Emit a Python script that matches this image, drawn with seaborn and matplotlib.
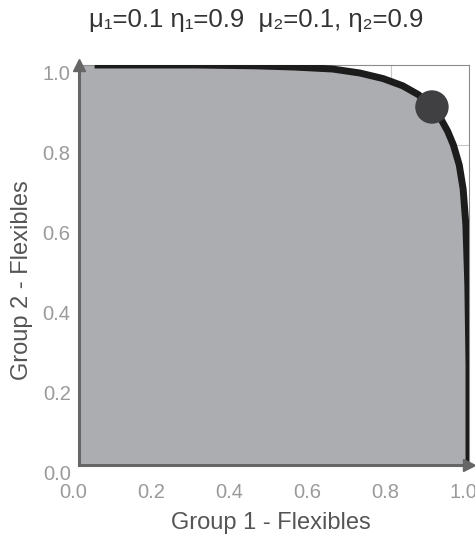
import numpy as np
import pandas as pd
import seaborn as sns
import matplotlib.pyplot as plt
import matplotlib.transforms as mtransforms

# frontier curve
curve_x = [0.04, 0.15, 0.30, 0.45, 0.55, 0.65, 0.72, 0.78, 0.83, 0.87, 0.90,
           0.925, 0.945, 0.96, 0.975, 0.985, 0.992, 0.997, 1.0, 1.0]
curve_y = [1.0, 1.0, 1.0, 0.998, 0.995, 0.99, 0.98, 0.966, 0.948, 0.926, 0.90,
           0.87, 0.835, 0.80, 0.75, 0.69, 0.60, 0.45, 0.25, 0.0]

# operating point
point_x = [0.905]
point_y = [0.895]

ticks = [0.0, 0.2, 0.4, 0.6, 0.8, 1.0]
tick_labels = ['0.0', '0.2', '0.4', '0.6', '0.8', '1.0']

title = 'μ₁=0.1 η₁=0.9  μ₂=0.1, η₂=0.9'
xlabel = 'Group 1 - Flexibles'
ylabel = 'Group 2 - Flexibles'

sns.set_style('white')
plt.rcParams['font.family'] = ['Liberation Sans', 'DejaVu Sans']

df_curve = pd.DataFrame({'x': curve_x, 'y': curve_y})
df_point = pd.DataFrame({'x': point_x, 'y': point_y})

fig = plt.figure(figsize=(4.75, 5.44), dpi=100)
ax = fig.add_axes([79 / 475, 1 - 465 / 544, 390 / 475, 400 / 544])

# light grid under everything
for t in ticks[1:-1]:
    ax.axvline(t, color='#c8c8c8', lw=0.8, zorder=0)
    ax.axhline(t, color='#c8c8c8', lw=0.8, zorder=0)

# gray feasible region
fill_x = [0.0] + curve_x
fill_y = [1.0] + curve_y
ax.fill_between(fill_x, 0, fill_y, color='#acadb1', lw=0, zorder=1)

sns.lineplot(data=df_curve, x='x', y='y', ax=ax, color='#1c1c1c', lw=5,
             sort=False, estimator=None, zorder=3, solid_capstyle='butt')
sns.scatterplot(data=df_point, x='x', y='y', ax=ax, color='#404043', s=580,
                edgecolor='none', zorder=4)

ax.set_xlim(0, 1)
ax.set_ylim(0, 1)
ax.set_xticks(ticks)
ax.set_yticks(ticks)
ax.set_xticklabels(tick_labels)
ax.set_yticklabels(tick_labels)
ax.tick_params(length=0, labelsize=14.5, labelcolor='#9a9a9a')
ax.tick_params(axis='x', pad=13)
ax.tick_params(axis='y', pad=6)
ax.set_xlabel('')
ax.set_ylabel('')

# shift tick labels a little like the original drawing
for lab in ax.get_xticklabels():
    lab.set_transform(lab.get_transform() + mtransforms.ScaledTranslation(-6 / 100, 0, fig.dpi_scale_trans))
for lab in ax.get_yticklabels():
    lab.set_transform(lab.get_transform() + mtransforms.ScaledTranslation(0, -8 / 100, fig.dpi_scale_trans))

for side in ['top', 'right']:
    ax.spines[side].set_color('#8c8c8c')
    ax.spines[side].set_linewidth(0.8)
for side in ['left', 'bottom']:
    ax.spines[side].set_color('#666666')
    ax.spines[side].set_linewidth(2.2)
    ax.spines[side].set_zorder(5)

# arrow heads on the axes
ax.plot([0], [1.0], marker='^', color='#666666', ms=8, clip_on=False, zorder=6)
ax.plot([1.0], [0], marker='>', color='#666666', ms=8, clip_on=False, zorder=6)

fig.text(256 / 475, 1 - 20 / 544, title, ha='center', va='center',
         fontsize=18.5, color='#333333')
fig.text(271 / 475, 1 - 523 / 544, xlabel, ha='center', va='center',
         fontsize=17, color='#555555')
fig.text(22 / 475, 1 - 280 / 544, ylabel, ha='center', va='center',
         rotation=90, fontsize=17, color='#555555')

plt.savefig('out.png', dpi=100)
